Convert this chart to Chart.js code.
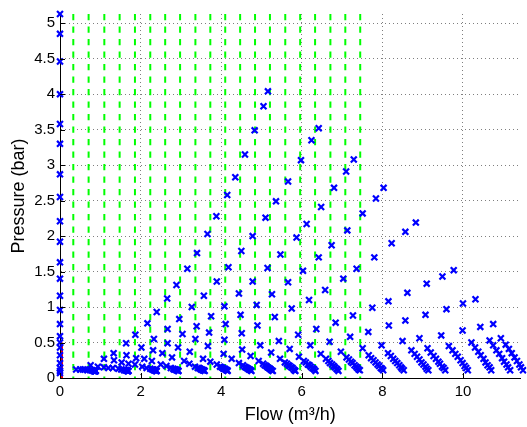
<!DOCTYPE html>
<html>
<head>
<meta charset="utf-8">
<script src="https://cdn.jsdelivr.net/npm/chart.js@4.4.1/dist/chart.umd.min.js"></script>
<style>
html,body{margin:0;padding:0;background:#fff;overflow:hidden}
#wrap{position:relative;width:527px;height:427px}
</style>
</head>
<body>
<div id="wrap"><canvas id="c" width="527" height="427"></canvas></div>
<script>
// ---- axis ticks ----
const xTicks = [0, 2, 4, 6, 8, 10];
const yTicks = [0, 0.5, 1, 1.5, 2, 2.5, 3, 3.5, 4, 4.5, 5];
const xMax = 11.43;
const yMax = 5.13;

// ---- green dashed vertical lines (flow positions) ----
const greenFlow = [0.33, 0.71, 1.10, 1.48, 1.86, 2.24, 2.61, 2.98, 3.36, 3.73,
                   4.10, 4.47, 4.84, 5.21, 5.59, 5.96, 6.33, 6.71, 7.08, 7.45];
// ---- red segment ----
const redFlow = [0.05, 0.05];
const redPressure = [0, 0.5];

// ---- measured operating points, grouped by pump curve (shut-off pressure) ----
const flow_513 = [0, 5.16, 6.42, 7.29, 8.03, 8.83, 9.77, 10.31, 10.75, 10.94, 11.06, 11.14, 11.21, 11.28, 11.34, 11.40, 11.44, 11.49];
const pres_513 = [5.13, 4.04, 3.52, 3.08, 2.68, 2.19, 1.52, 1.11, 0.76, 0.56, 0.47, 0.41, 0.35, 0.29, 0.24, 0.19, 0.15, 0.11];
const flow_485 = [0, 5.05, 6.24, 7.10, 7.84, 8.57, 9.49, 10.00, 10.43, 10.66, 10.75, 10.83, 10.90, 10.97, 11.02, 11.08, 11.12, 11.17];
const pres_485 = [4.85, 3.83, 3.35, 2.91, 2.53, 2.06, 1.43, 1.05, 0.72, 0.53, 0.46, 0.39, 0.34, 0.28, 0.23, 0.19, 0.15, 0.11];
const flow_446 = [0, 4.83, 5.98, 6.80, 7.51, 8.23, 9.10, 9.59, 9.99, 10.21, 10.30, 10.38, 10.44, 10.51, 10.56, 10.61, 10.66, 10.70];
const pres_446 = [4.46, 3.49, 3.07, 2.68, 2.32, 1.90, 1.33, 0.97, 0.67, 0.50, 0.43, 0.37, 0.32, 0.27, 0.22, 0.18, 0.15, 0.11];
const flow_400 = [0, 4.59, 5.66, 6.48, 7.13, 7.80, 8.62, 9.07, 9.46, 9.65, 9.74, 9.81, 9.87, 9.94, 9.99, 10.04, 10.08, 10.12];
const pres_400 = [4.00, 3.15, 2.77, 2.41, 2.08, 1.70, 1.20, 0.89, 0.60, 0.45, 0.39, 0.34, 0.30, 0.25, 0.21, 0.17, 0.14, 0.11];
const flow_358 = [0, 4.35, 5.36, 6.12, 6.74, 7.36, 8.15, 8.57, 8.92, 9.12, 9.20, 9.27, 9.33, 9.39, 9.43, 9.48, 9.52, 9.56];
const pres_358 = [3.58, 2.83, 2.49, 2.17, 1.87, 1.54, 1.08, 0.81, 0.56, 0.42, 0.36, 0.31, 0.27, 0.23, 0.20, 0.16, 0.14, 0.11];
const flow_330 = [0, 4.15, 5.10, 5.87, 6.42, 7.03, 7.75, 8.16, 8.50, 8.72, 8.80, 8.86, 8.92, 8.97, 9.02, 9.07, 9.10, 9.14];
const pres_330 = [3.30, 2.58, 2.26, 1.98, 1.70, 1.40, 0.99, 0.74, 0.52, 0.39, 0.34, 0.30, 0.26, 0.22, 0.19, 0.16, 0.13, 0.11];
const flow_287 = [0, 3.88, 4.78, 5.47, 6.03, 6.58, 7.27, 7.65, 7.98, 8.14, 8.21, 8.27, 8.32, 8.37, 8.42, 8.46, 8.49, 8.53];
const pres_287 = [2.87, 2.28, 2.00, 1.74, 1.51, 1.24, 0.88, 0.65, 0.46, 0.35, 0.31, 0.27, 0.24, 0.21, 0.18, 0.15, 0.13, 0.11];
const flow_255 = [0, 3.66, 4.50, 5.15, 5.66, 6.18, 6.84, 7.20, 7.51, 7.66, 7.72, 7.78, 7.83, 7.88, 7.92, 7.96, 7.99, 8.02];
const pres_255 = [2.55, 2.03, 1.79, 1.55, 1.35, 1.10, 0.78, 0.58, 0.42, 0.32, 0.28, 0.25, 0.22, 0.19, 0.17, 0.14, 0.13, 0.11];
const flow_221 = [0, 3.40, 4.18, 4.78, 5.26, 5.75, 6.36, 6.69, 6.97, 7.11, 7.17, 7.22, 7.26, 7.31, 7.35, 7.38, 7.41, 7.44];
const pres_221 = [2.21, 1.76, 1.56, 1.36, 1.18, 0.98, 0.69, 0.51, 0.37, 0.29, 0.26, 0.23, 0.21, 0.18, 0.16, 0.14, 0.12, 0.11];
const flow_192 = [0, 3.16, 3.89, 4.44, 4.88, 5.33, 5.91, 6.21, 6.47, 6.60, 6.66, 6.70, 6.75, 6.79, 6.82, 6.86, 6.88, 6.91];
const pres_192 = [1.92, 1.54, 1.36, 1.19, 1.03, 0.86, 0.61, 0.46, 0.34, 0.27, 0.24, 0.21, 0.19, 0.17, 0.15, 0.13, 0.12, 0.10];
const flow_163 = [0, 2.89, 3.57, 4.08, 4.48, 4.90, 5.43, 5.70, 5.93, 6.05, 6.10, 6.15, 6.19, 6.22, 6.26, 6.29, 6.31, 6.34];
const pres_163 = [1.63, 1.31, 1.16, 1.01, 0.89, 0.74, 0.52, 0.41, 0.30, 0.24, 0.22, 0.19, 0.18, 0.16, 0.14, 0.13, 0.12, 0.10];
const flow_140 = [0, 2.66, 3.27, 3.75, 4.11, 4.51, 4.97, 5.24, 5.46, 5.58, 5.63, 5.67, 5.70, 5.74, 5.77, 5.80, 5.82, 5.84];
const pres_140 = [1.40, 1.12, 1.00, 0.87, 0.76, 0.63, 0.46, 0.36, 0.27, 0.22, 0.20, 0.18, 0.17, 0.15, 0.14, 0.12, 0.11, 0.10];
const flow_116 = [0, 2.40, 2.96, 3.39, 3.70, 4.08, 4.52, 4.73, 4.93, 5.04, 5.08, 5.12, 5.15, 5.18, 5.21, 5.23, 5.25, 5.28];
const pres_116 = [1.16, 0.93, 0.83, 0.73, 0.64, 0.54, 0.40, 0.31, 0.24, 0.20, 0.18, 0.17, 0.15, 0.14, 0.13, 0.12, 0.11, 0.10];
const flow_096 = [0, 2.17, 2.67, 3.04, 3.36, 3.67, 4.06, 4.26, 4.44, 4.54, 4.58, 4.61, 4.64, 4.67, 4.69, 4.71, 4.73, 4.75];
const pres_096 = [0.96, 0.77, 0.69, 0.62, 0.55, 0.45, 0.34, 0.27, 0.21, 0.18, 0.16, 0.15, 0.14, 0.13, 0.12, 0.12, 0.11, 0.10];
const flow_076 = [0, 1.87, 2.33, 2.67, 2.93, 3.22, 3.55, 3.73, 3.89, 3.97, 4.01, 4.04, 4.06, 4.09, 4.11, 4.13, 4.15, 4.16];
const pres_076 = [0.76, 0.61, 0.55, 0.49, 0.43, 0.37, 0.27, 0.23, 0.19, 0.16, 0.15, 0.14, 0.13, 0.13, 0.12, 0.11, 0.11, 0.10];
const flow_059 = [0, 1.64, 2.02, 2.31, 2.54, 2.78, 3.08, 3.21, 3.35, 3.42, 3.45, 3.48, 3.50, 3.52, 3.54, 3.56, 3.57, 3.59];
const pres_059 = [0.59, 0.49, 0.43, 0.39, 0.35, 0.29, 0.24, 0.20, 0.16, 0.14, 0.14, 0.13, 0.12, 0.12, 0.11, 0.11, 0.11, 0.10];
const flow_043 = [0, 1.33, 1.65, 1.89, 2.09, 2.28, 2.50, 2.64, 2.75, 2.81, 2.83, 2.86, 2.87, 2.89, 2.91, 2.92, 2.93, 2.94];
const pres_043 = [0.43, 0.35, 0.32, 0.28, 0.27, 0.24, 0.19, 0.17, 0.14, 0.13, 0.12, 0.12, 0.12, 0.11, 0.11, 0.11, 0.10, 0.10];
const flow_032 = [0, 1.09, 1.34, 1.53, 1.70, 1.86, 2.04, 2.15, 2.24, 2.29, 2.31, 2.33, 2.35, 2.36, 2.37, 2.38, 2.39, 2.40];
const pres_032 = [0.32, 0.27, 0.25, 0.22, 0.20, 0.19, 0.16, 0.14, 0.13, 0.12, 0.12, 0.11, 0.11, 0.11, 0.11, 0.10, 0.10, 0.10];
const flow_021 = [0, 0.76, 0.94, 1.09, 1.20, 1.31, 1.45, 1.52, 1.59, 1.62, 1.64, 1.65, 1.66, 1.67, 1.68, 1.69, 1.69, 1.70];
const pres_021 = [0.21, 0.18, 0.16, 0.15, 0.14, 0.14, 0.13, 0.12, 0.11, 0.11, 0.11, 0.11, 0.11, 0.10, 0.10, 0.10, 0.10, 0.10];
const flow_014 = [0, 0.40, 0.50, 0.57, 0.62, 0.68, 0.75, 0.80, 0.83, 0.85, 0.85, 0.86, 0.87, 0.87, 0.88, 0.88, 0.88, 0.89];
const pres_014 = [0.14, 0.12, 0.12, 0.12, 0.12, 0.11, 0.11, 0.11, 0.10, 0.10, 0.10, 0.10, 0.10, 0.10, 0.10, 0.10, 0.10, 0.10];
const flow_extra = [0, 0, 0];
const pres_extra = [0.50, 0.10, 0.07];

const groups = [
  [flow_513, pres_513], [flow_485, pres_485], [flow_446, pres_446], [flow_400, pres_400],
  [flow_358, pres_358], [flow_330, pres_330], [flow_287, pres_287], [flow_255, pres_255],
  [flow_221, pres_221], [flow_192, pres_192], [flow_163, pres_163], [flow_140, pres_140],
  [flow_116, pres_116], [flow_096, pres_096], [flow_076, pres_076], [flow_059, pres_059],
  [flow_043, pres_043], [flow_032, pres_032], [flow_021, pres_021], [flow_014, pres_014],
  [flow_extra, pres_extra]
];

const pts = [];
groups.forEach(([f, p]) => f.forEach((v, i) => pts.push({x: v, y: p[i]})));

const FONT = "'Liberation Sans', Arial, Helvetica, sans-serif";

const datasets = [{
  type: 'scatter',
  data: pts,
  pointStyle: 'crossRot',
  pointRadius: 4.2,
  radius: 4.2,
  pointBorderWidth: 2.2,
  borderWidth: 2.2,
  pointBorderColor: '#0000ff',
  borderColor: '#0000ff',
  backgroundColor: '#0000ff',
  showLine: false,
  clip: 6
}];
datasets.push({
  type: 'line',
  data: redFlow.map((v, i) => ({x: v, y: redPressure[i]})),
  borderColor: '#ff0000',
  borderWidth: 2,
  pointRadius: 0,
  fill: false
});
greenFlow.forEach(v => datasets.push({
  type: 'line',
  data: [{x: v, y: yMax}, {x: v, y: 0}],
  borderColor: '#00ff00',
  borderWidth: 2,
  borderDash: [6.3, 6.2],
  pointRadius: 0,
  fill: false
}));

const innerTicks = {
  id: 'innerTicks',
  afterDatasetsDraw(chart) {
    const {ctx, chartArea: a, scales: {x, y}} = chart;
    ctx.save();
    ctx.strokeStyle = '#000';
    ctx.lineWidth = 1;
    ctx.beginPath();
    xTicks.forEach(t => {
      const px = Math.round(x.getPixelForValue(t)) + 0.5;
      ctx.moveTo(px, a.bottom); ctx.lineTo(px, a.bottom - 5);
    });
    yTicks.forEach(t => {
      const py = Math.round(y.getPixelForValue(t)) + 0.5;
      ctx.moveTo(a.left, py); ctx.lineTo(a.left + 5, py);
    });
    ctx.stroke();
    ctx.restore();
  }
};

new Chart(document.getElementById('c'), {
  type: 'scatter',
  data: {datasets},
  options: {
    responsive: false,
    animation: false,
    devicePixelRatio: 1,
    elements: {point: {pointStyle: 'crossRot', radius: 4.2, borderWidth: 2.2, borderColor: '#0000ff'}},
    layout: {padding: {top: 9, right: 0, bottom: 0, left: 0}},
    plugins: {legend: {display: false}, tooltip: {enabled: false}},
    scales: {
      x: {
        type: 'linear', min: 0, max: xMax,
        afterBuildTicks: s => { s.ticks = xTicks.map(v => ({value: v})); },
        afterFit: s => { s.height = 49; },
        grid: {color: 'rgba(0,0,0,0.5)', lineWidth: 1, drawTicks: false},
        border: {display: true, color: '#000', width: 1, dash: [1, 3]},
        ticks: {color: '#000', font: {family: FONT, size: 15}, padding: 4.5, maxRotation: 0, autoSkip: false,
                callback: v => String(+Number(v).toFixed(2))},
        title: {display: true, text: 'Flow (m³/h)', color: '#000', font: {family: FONT, size: 18}, padding: {top: 0, bottom: 1}}
      },
      y: {
        type: 'linear', min: 0, max: yMax,
        afterBuildTicks: s => { s.ticks = yTicks.map(v => ({value: v})); },
        afterFit: s => { s.width = 60; },
        grid: {color: 'rgba(0,0,0,0.5)', lineWidth: 1, drawTicks: false},
        border: {display: true, color: '#000', width: 1, dash: [1, 3]},
        ticks: {color: '#000', font: {family: FONT, size: 15}, padding: 5, autoSkip: false,
                callback: v => String(+Number(v).toFixed(2))},
        title: {display: true, text: 'Pressure (bar)', color: '#000', font: {family: FONT, size: 18}, padding: {top: 8, bottom: 0}}
      }
    }
  },
  plugins: [innerTicks]
});
</script>
</body>
</html>
